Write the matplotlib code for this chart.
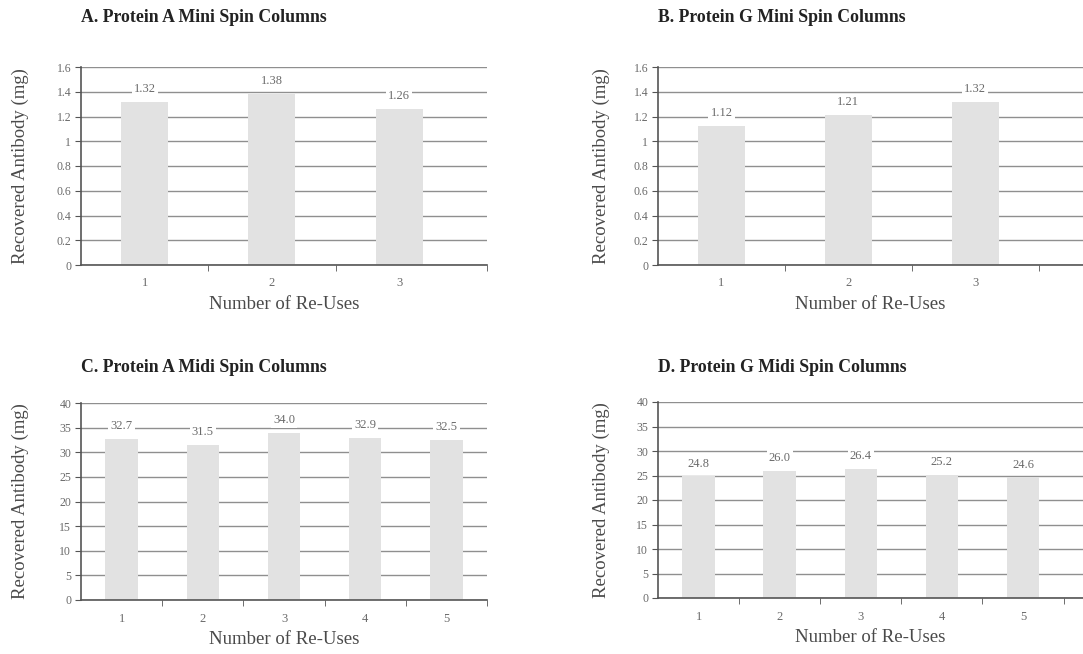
import numpy as np
import matplotlib.pyplot as plt

plt.rcParams['font.family'] = ['Liberation Serif', 'DejaVu Serif']

# dati
uses_mini = [1, 2, 3]
uses_midi = [1, 2, 3, 4, 5]
prot_a_mini = [1.32, 1.38, 1.26]
prot_g_mini = [1.12, 1.21, 1.32]
prot_a_midi = [32.7, 31.5, 34.0, 32.9, 32.5]
prot_g_midi = [24.8, 26.0, 26.4, 25.2, 24.6]
lab_a_mini = ['1.32', '1.38', '1.26']
lab_g_mini = ['1.12', '1.21', '1.32']
lab_a_midi = ['32.7', '31.5', '34.0', '32.9', '32.5']
lab_g_midi = ['24.8', '26.0', '26.4', '25.2', '24.6']
titles = ['A. Protein A Mini Spin Columns', 'B. Protein G Mini Spin Columns',
          'C. Protein A Midi Spin Columns', 'D. Protein G Midi Spin Columns']
mini_ticks = [0, 0.2, 0.4, 0.6, 0.8, 1, 1.2, 1.4, 1.6]
mini_ticklabels = ['0', '0.2', '0.4', '0.6', '0.8', '1', '1.2', '1.4', '1.6']
midi_ticks = [0, 5, 10, 15, 20, 25, 30, 35, 40]

fig = plt.figure(figsize=(10.83, 6.54), dpi=100)
W, H = 1083, 654

def make_ax(x0, x1, ytop, ybot):
    return fig.add_axes([x0 / W, 1 - ybot / H, (x1 - x0) / W, (ybot - ytop) / H])

# (asse, x, y, etichette, larghezza barra, xlim, yticks, ytick labels, ymax, tick minori, pos. ylabel px)
panels = [
    (make_ax(81, 487, 67, 265), uses_mini, prot_a_mini, lab_a_mini, 0.37, (0.5, 3.69),
     mini_ticks, mini_ticklabels, 1.6, [1.5, 2.5, 3.69], 81, 406, 29),
    (make_ax(658, 1083, 67, 265), uses_mini, prot_g_mini, lab_g_mini, 0.37, (0.5, 3.85),
     mini_ticks, mini_ticklabels, 1.6, [1.5, 2.5, 3.5], 658, 425, 610),
    (make_ax(81, 487, 403, 600), uses_midi, prot_a_midi, lab_a_midi, 0.4, (0.5, 5.5),
     midi_ticks, [str(t) for t in midi_ticks], 40, [1.5, 2.5, 3.5, 4.5, 5.5], 81, 406, 29),
    (make_ax(658, 1083, 402, 598), uses_midi, prot_g_midi, lab_g_midi, 0.4, (0.5, 5.74),
     midi_ticks, [str(t) for t in midi_ticks], 40, [1.5, 2.5, 3.5, 4.5, 5.5], 658, 425, 610),
]

grey = '#6a6a6a'
for (ax, x, y, labs, bw, xl, yt, ytl, ymax, minor, ax_x0, ax_w, ylab_x), title in zip(panels, titles):
    ax.bar(x, y, width=bw, color='#e2e2e2', zorder=2)
    ax.set_xlim(*xl)
    ax.set_ylim(0, ymax)
    ax.set_yticks(yt)
    ax.set_yticklabels(ytl)
    ax.set_xticks(x)
    ax.set_xticks(minor, minor=True)
    ax.yaxis.grid(True, color='#8f8f8f', linewidth=1.0, zorder=0)
    ax.set_axisbelow(True)
    for s in ['top', 'right']:
        ax.spines[s].set_visible(False)
    for s in ['left', 'bottom']:
        ax.spines[s].set_color('#555555')
        ax.spines[s].set_linewidth(1.2)
    ax.tick_params(axis='y', colors='#555555', labelcolor=grey, labelsize=8.5, length=4, pad=3)
    ax.tick_params(axis='x', which='major', length=0, labelcolor=grey, labelsize=9, pad=9)
    ax.tick_params(axis='x', which='minor', length=4, color='#555555')
    for xi, yi, lb in zip(x, y, labs):
        ax.annotate(lb, (xi, yi), xytext=(0, 5), textcoords='offset points',
                    ha='center', va='bottom', fontsize=9, color=grey, zorder=3,
                    bbox=dict(facecolor='white', edgecolor='none', pad=1.5))
    ax.set_xlabel('Number of Re-Uses', fontsize=13.5, color='#4a4a4a', labelpad=5)
    ax.set_ylabel('Recovered Antibody (mg)', fontsize=13.5, color='#4a4a4a')
    ax.yaxis.set_label_coords((ylab_x - ax_x0) / ax_w, 0.5)

# titoli
for tx, ty, t in zip([81, 658, 81, 658], [18, 18, 367, 367], titles):
    fig.text(tx / W, 1 - ty / H, t, fontsize=12.8, fontweight='bold', va='center', color='#222222')

plt.savefig('out.png', dpi=100)
